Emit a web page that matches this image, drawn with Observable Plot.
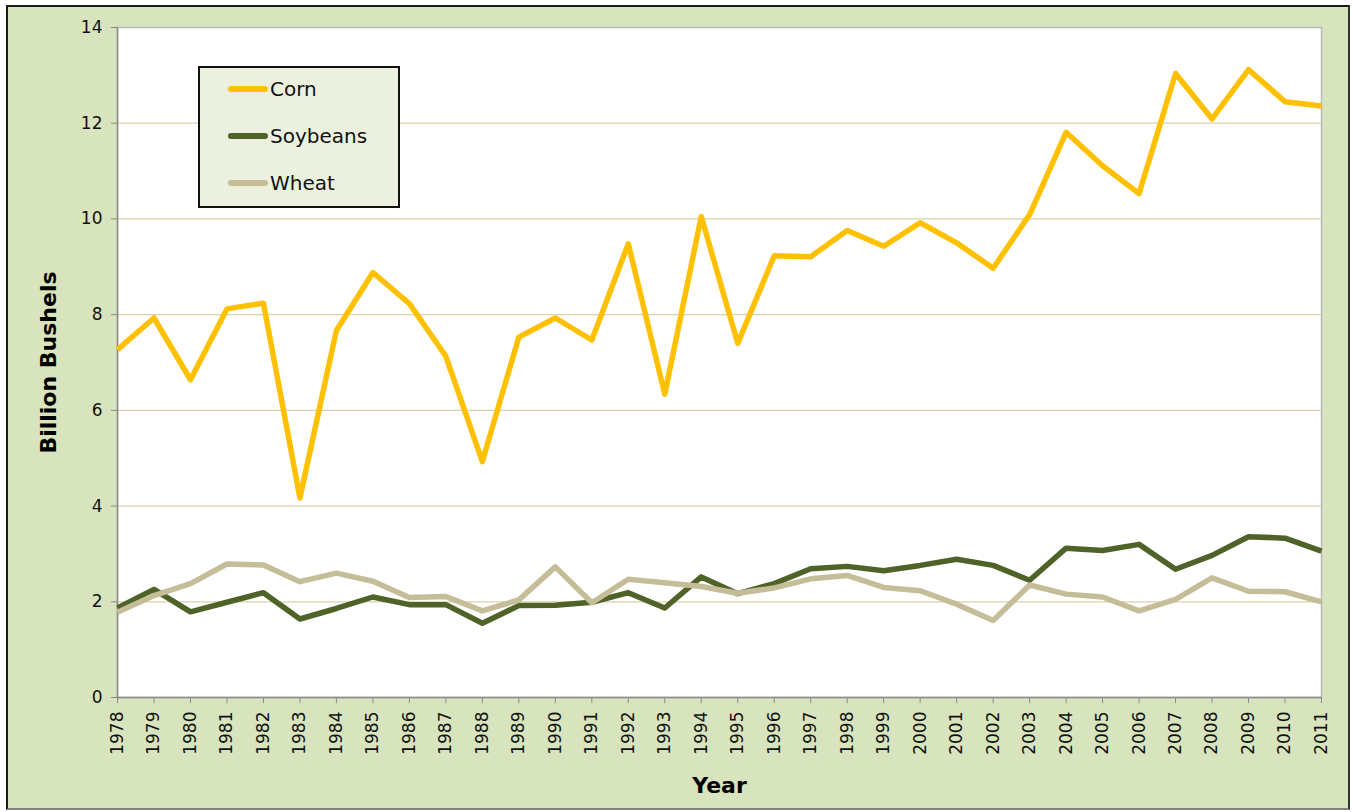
<!DOCTYPE html>
<html>
<head>
<meta charset="utf-8">
<script src="https://cdn.jsdelivr.net/npm/d3@7"></script>
<script src="https://cdn.jsdelivr.net/npm/@observablehq/plot@0.6"></script>
<style>
  html, body { margin: 0; padding: 0; background: #ffffff; }
  #wrap { position: relative; width: 1353px; height: 812px; overflow: hidden; font-family: "DejaVu Sans", Verdana, sans-serif; }
  #bg { position: absolute; left: 6px; top: 5px; width: 1340px; height: 801px; background: #D7E4BD; border: 2px solid #1a1a1a; border-bottom-color: #808080; border-right-color: #333; }
  #chart { position: absolute; left: 0; top: 0; }
  #chart svg, #chart svg text { font-family: "DejaVu Sans", Verdana, sans-serif; }
  #legend { position: absolute; left: 198px; top: 66px; width: 198px; height: 138px; background: #EBF1DE; border: 2px solid #111; }
  .item { position: absolute; left: 28px; height: 24px; display: flex; align-items: center; font-size: 20px; color: #111; }
  .swatch { width: 40px; height: 6px; border-radius: 3px; margin-right: 2px; }
</style>
</head>
<body>
<div id="wrap">
  <div id="bg"></div>
  <div id="chart"></div>
  <div id="legend"></div>
</div>
<script>
const years = d3.range(1978, 2012);
const corn = [7.27, 7.93, 6.64, 8.12, 8.24, 4.17, 7.67, 8.88, 8.23, 7.13, 4.93, 7.53, 7.93, 7.47, 9.48, 6.34, 10.05, 7.40, 9.23, 9.21, 9.76, 9.43, 9.92, 9.50, 8.97, 10.09, 11.81, 11.11, 10.53, 13.04, 12.09, 13.12, 12.45, 12.36];
const soybeans = [1.87, 2.26, 1.79, 1.99, 2.19, 1.64, 1.86, 2.10, 1.94, 1.94, 1.55, 1.92, 1.93, 1.99, 2.19, 1.87, 2.52, 2.17, 2.38, 2.69, 2.74, 2.65, 2.76, 2.89, 2.76, 2.45, 3.12, 3.07, 3.20, 2.68, 2.97, 3.36, 3.33, 3.06];
const wheat = [1.78, 2.13, 2.38, 2.79, 2.77, 2.42, 2.60, 2.43, 2.09, 2.11, 1.81, 2.04, 2.73, 1.98, 2.47, 2.40, 2.32, 2.18, 2.29, 2.48, 2.55, 2.30, 2.23, 1.95, 1.61, 2.35, 2.16, 2.10, 1.81, 2.05, 2.50, 2.22, 2.21, 2.00];
const seriesNames = ["Corn", "Soybeans", "Wheat"];
const seriesColors = ["#FFC000", "#4F6228", "#C4BD97"];
const yTicks = [0, 2, 4, 6, 8, 10, 12, 14];

const seriesValues = [corn, soybeans, wheat];
const data = seriesNames.flatMap((name, i) => years.map((year, j) => ({series: name, year, value: seriesValues[i][j]})));

const chart = Plot.plot({
  width: 1353,
  height: 812,
  marginLeft: 117,
  marginRight: 32,
  marginTop: 27,
  marginBottom: 115,
  style: "background: transparent; font-family: 'DejaVu Sans', Verdana, sans-serif; color: #111;",
  x: {type: "linear", domain: [1978, 2011]},
  y: {domain: [0, 14]},
  color: {domain: seriesNames, range: seriesColors},
  marks: [
    Plot.frame({fill: "white", stroke: "#B8B8B8", strokeWidth: 1.5}),
    Plot.ruleY(yTicks.filter(d => d > 0 && d < 14), {stroke: "#D9D0AC", strokeWidth: 1.2}),
    Plot.ruleX([1978], {stroke: "#8A8A8A", strokeWidth: 1.5}),
    Plot.ruleY([0], {stroke: "#8A8A8A", strokeWidth: 1.5}),
    Plot.axisY({ticks: yTicks, tickSize: 6, tickPadding: 9, fontSize: 17, stroke: "#8A8A8A", fill: "#111", label: null, tickFormat: d => String(d)}),
    Plot.axisX({ticks: years, tickSize: 6, tickPadding: 8, tickRotate: -90, fontSize: 17, stroke: "#8A8A8A", fill: "#111", label: null, tickFormat: d => String(d)}),
    Plot.line(data, {x: "year", y: "value", z: "series", stroke: "series", strokeWidth: 5.5, strokeLinejoin: "round", strokeLinecap: "butt"}),
    Plot.text(["Billion Bushels"], {frameAnchor: "left", textAnchor: "middle", dx: -69, rotate: -90, fontWeight: "bold", fontSize: 22, fill: "#000"}),
    Plot.text(["Year"], {frameAnchor: "bottom", textAnchor: "middle", lineAnchor: "middle", dy: 88, fontWeight: "bold", fontSize: 22, fill: "#000"})
  ]
});
document.getElementById("chart").appendChild(chart);

const legend = document.getElementById("legend");
seriesNames.forEach((name, i) => {
  const item = document.createElement("div");
  item.className = "item";
  item.style.top = (9 + i * 47) + "px";
  const sw = document.createElement("div");
  sw.className = "swatch";
  sw.style.background = seriesColors[i];
  const label = document.createElement("span");
  label.textContent = name;
  item.appendChild(sw);
  item.appendChild(label);
  legend.appendChild(item);
});
</script>
</body>
</html>
